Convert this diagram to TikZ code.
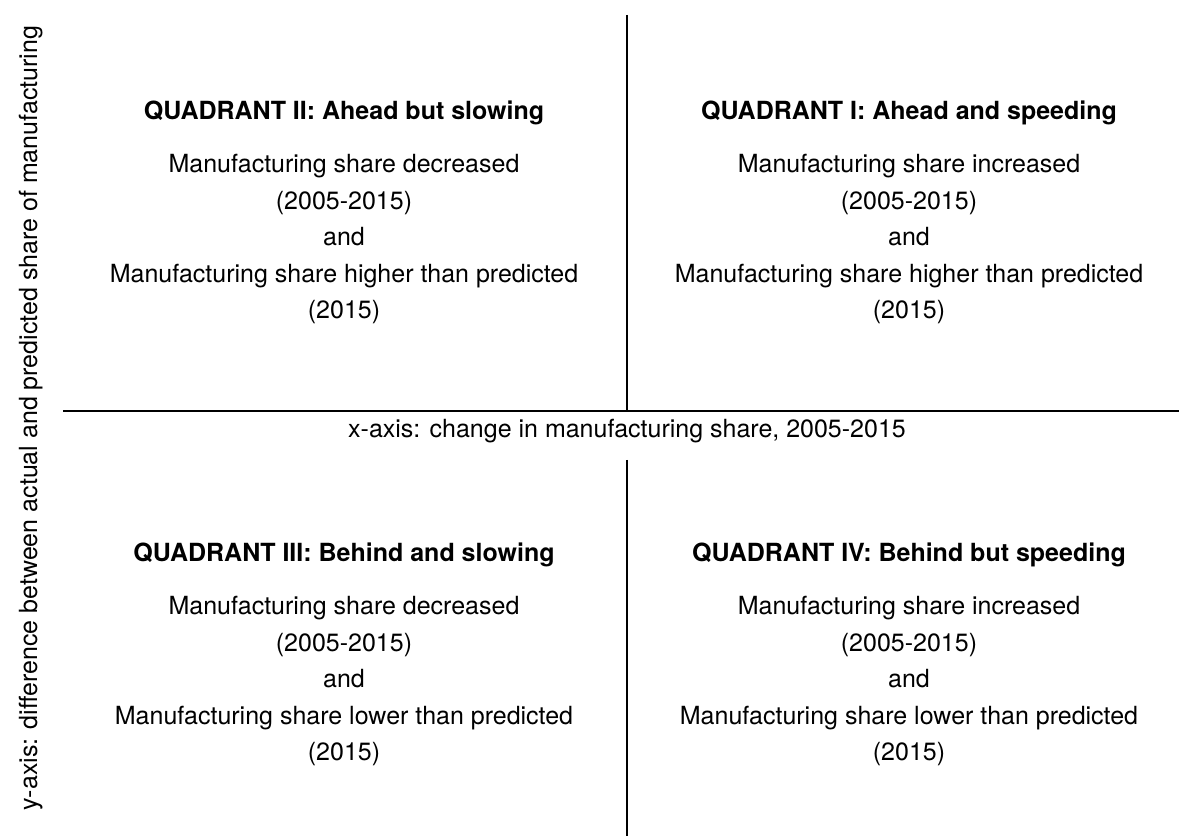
\documentclass[tikz,border=0pt]{standalone}
\usepackage{fontspec}
\setmainfont{TeX Gyre Heros}
\begin{document}
\begin{tikzpicture}[x=1pt,y=1pt,
  every node/.style={font=\fontsize{25}{30}\selectfont, inner sep=0pt},
  qtitle/.style={font=\fontsize{25}{30}\selectfont\bfseries, anchor=base},
  qbody/.style={anchor=base},
  axisline/.style={line width=2pt, draw=black}]
\useasboundingbox (0,0) rectangle (1179,836);
% axes
\coordinate (vtop) at (627,821);
\coordinate (vmid1) at (627,425);
\coordinate (vmid2) at (627,376);
\coordinate (vbot) at (627,0);
\coordinate (hleft) at (63,425);
\coordinate (hright) at (1179,425);
\draw[axisline] (vtop) -- (vmid1);
\draw[axisline] (vmid2) -- (vbot);
\draw[axisline] (hleft) -- (hright);
% axis labels
\node[anchor=base] (xlab) at (627,398) {x-axis: change in manufacturing share, 2005-2015};
\node[anchor=base, rotate=90] (ylab) at (37,418) {y-axis: difference between actual and predicted share of manufacturing};
% Quadrant II
\node[qtitle] (t2) at (344,716) {QUADRANT II: Ahead but slowing};
\node[qbody] (b2a) at (344,663) {Manufacturing share decreased};
\node[qbody] (b2b) at (344,626.5) {(2005-2015)};
\node[qbody] (b2c) at (344,590) {and};
\node[qbody] (b2d) at (344,553.5) {Manufacturing share higher than predicted};
\node[qbody] (b2e) at (344,517) {(2015)};
% Quadrant I
\node[qtitle] (t1) at (909,716) {QUADRANT I: Ahead and speeding};
\node[qbody] (b1a) at (909,663) {Manufacturing share increased};
\node[qbody] (b1b) at (909,626.5) {(2005-2015)};
\node[qbody] (b1c) at (909,590) {and};
\node[qbody] (b1d) at (909,553.5) {Manufacturing share higher than predicted};
\node[qbody] (b1e) at (909,517) {(2015)};
% Quadrant III
\node[qtitle] (t3) at (344,274) {QUADRANT III: Behind and slowing};
\node[qbody] (b3a) at (344,221) {Manufacturing share decreased};
\node[qbody] (b3b) at (344,184.5) {(2005-2015)};
\node[qbody] (b3c) at (344,148) {and};
\node[qbody] (b3d) at (344,111.5) {Manufacturing share lower than predicted};
\node[qbody] (b3e) at (344,75) {(2015)};
% Quadrant IV
\node[qtitle] (t4) at (909,274) {QUADRANT IV: Behind but speeding};
\node[qbody] (b4a) at (909,221) {Manufacturing share increased};
\node[qbody] (b4b) at (909,184.5) {(2005-2015)};
\node[qbody] (b4c) at (909,148) {and};
\node[qbody] (b4d) at (909,111.5) {Manufacturing share lower than predicted};
\node[qbody] (b4e) at (909,75) {(2015)};
\end{tikzpicture}
\end{document}
